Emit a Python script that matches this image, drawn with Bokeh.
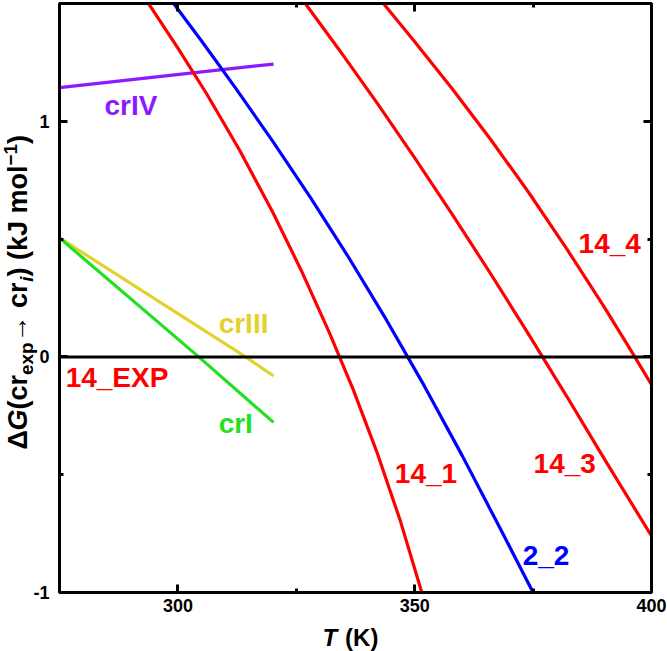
import math
from bokeh.plotting import figure
from bokeh.layouts import row, column
from bokeh.models import (Range1d, FixedTicker, LinearAxis, ColumnDataSource, Span,
                          CustomLabelingPolicy)
from bokeh.core.properties import value
from bokeh.embed import file_html
from bokeh.resources import INLINE

# ---------------- data ----------------
x_ticks = [300, 350, 400]
x_minor = [325, 375]
x_tick_labels = ["300", "350", "400"]
y_ticks = [-1, 0, 1]
y_minor = [-0.5, 0.5]
y_tick_labels = ["-1", "0", "1"]

t_14_1 = [293.8, 300.0, 306.0, 313.0, 320.0, 326.0, 332.0, 337.0, 342.0, 347.0, 351.5]
g_14_1 = [1.50, 1.311, 1.119, 0.878, 0.615, 0.369, 0.102, -0.138, -0.403, -0.698, -1.00]

t_2_2 = [299.1, 305.0, 312.0, 320.0, 328.0, 336.0, 344.0, 352.0, 360.0, 368.0, 375.0]
g_2_2 = [1.50, 1.341, 1.146, 0.916, 0.676, 0.424, 0.158, -0.122, -0.418, -0.726, -1.00]

t_14_3 = [326.9, 334.0, 342.0, 350.0, 358.0, 366.0, 374.0, 382.0, 390.0, 400.0]
g_14_3 = [1.50, 1.305, 1.079, 0.845, 0.603, 0.354, 0.098, -0.164, -0.432, -0.760]

t_14_4 = [343.4, 350.0, 358.0, 366.0, 374.0, 382.0, 390.0, 396.0, 400.0]
g_14_4 = [1.50, 1.338, 1.136, 0.924, 0.700, 0.462, 0.212, 0.016, -0.118]

t_crIV = [275.0, 320.2]
g_crIV = [1.143, 1.243]

t_crIII = [275.0, 314.3, 320.2]
g_crIII = [0.505, 0.00, -0.081]

t_crI = [275.0, 304.4, 320.2]
g_crI = [0.505, 0.00, -0.278]

# curve labels: left edge (x) and vertical middle (y) of each text
label_text = ["14_EXP", "crIII", "crI", "crIV", "14_1", "14_3", "2_2", "14_4"]
label_x = [276.3, 308.6, 308.6, 284.5, 345.8, 375.1, 372.8, 384.6]
label_y = [-0.089, 0.140, -0.284, 1.066, -0.496, -0.454, -0.844, 0.480]

RED = "#FF0000"
BLUE = "#0000FF"
PURPLE = "#8C1AFF"
YELLOW = "#E3D22E"
GREEN = "#22E022"
label_color = [RED, YELLOW, GREEN, PURPLE, RED, RED, BLUE, RED]

FONT = "Liberation Sans"

# ---------------- layout geometry ----------------
TOTAL_W, TOTAL_H = 667, 651
LEFT_W = 57          # panel (full height) holding the y title and y tick labels
BOT_H = 30           # panel holding the x title
MAIN_W = TOTAL_W - LEFT_W
MAIN_H = TOTAL_H - BOT_H
FR_TOP = 3
FR_BOT = MAIN_H - 592
K = 2.5 / (MAIN_H - FR_TOP - FR_BOT)   # data units per pixel (y)
MID = 0.35                              # baseline -> vertical middle, in em

hide_labels = CustomLabelingPolicy(
    code="for (const i of Array.from(indices)) { indices.unset(i) } return indices")

# ---------------- main figure ----------------
x_range = Range1d(275, 400)
y_range = Range1d(-1, 1.5)
p = figure(width=MAIN_W, height=MAIN_H, x_range=x_range, y_range=y_range,
           output_backend="svg", toolbar_location=None,
           min_border_left=2, min_border_right=16, min_border_top=FR_TOP,
           min_border_bottom=FR_BOT)
p.xgrid.visible = False
p.ygrid.visible = False
p.background_fill_color = "white"
p.border_fill_color = "white"
p.outline_line_color = "black"
p.outline_line_width = 3


def style_axis(ax, labels=True):
    ax.axis_line_color = "black"
    ax.axis_line_width = 3
    ax.major_tick_line_color = "black"
    ax.major_tick_line_width = 3
    ax.major_tick_in = 8
    ax.major_tick_out = 0
    ax.minor_tick_line_color = "black"
    ax.minor_tick_line_width = 3
    ax.minor_tick_in = 4
    ax.minor_tick_out = 0
    ax.axis_label = None
    if labels:
        ax.major_label_text_font = FONT
        ax.major_label_text_font_style = "bold"
        ax.major_label_text_font_size = "18px"
        ax.major_label_text_color = "black"
    else:
        ax.major_label_text_font_size = "0px"
        ax.major_label_standoff = 0
        ax.major_label_policy = hide_labels


p.xaxis.ticker = FixedTicker(ticks=x_ticks, minor_ticks=x_minor)
p.yaxis.ticker = FixedTicker(ticks=y_ticks, minor_ticks=y_minor)
p.xaxis.major_label_overrides = dict(zip(x_ticks, x_tick_labels))
for ax in p.xaxis:
    style_axis(ax)
    ax.major_label_standoff = 6
for ax in p.yaxis:
    style_axis(ax, labels=False)

top = LinearAxis(ticker=FixedTicker(ticks=x_ticks, minor_ticks=x_minor))
style_axis(top, labels=False)
p.add_layout(top, "above")
right = LinearAxis(ticker=FixedTicker(ticks=y_ticks, minor_ticks=y_minor))
style_axis(right, labels=False)
p.add_layout(right, "right")

p.add_layout(Span(location=0, dimension="width", line_color="black", line_width=3))

LW = 3.2
p.line(t_crIV, g_crIV, line_color=PURPLE, line_width=LW)
p.line(t_crIII, g_crIII, line_color=YELLOW, line_width=LW)
p.line(t_crI, g_crI, line_color=GREEN, line_width=LW)
p.line(t_14_1, g_14_1, line_color=RED, line_width=LW)
p.line(t_2_2, g_2_2, line_color=BLUE, line_width=LW)
p.line(t_14_3, g_14_3, line_color=RED, line_width=LW)
p.line(t_14_4, g_14_4, line_color=RED, line_width=LW)

src = ColumnDataSource(dict(x=label_x, y=label_y, text=label_text, color=label_color))
p.text(x="x", y="y", text="text", source=src, text_color="color",
       text_font=value(FONT), text_font_style=value("bold"), text_font_size=value("28px"),
       text_baseline=value("middle"), text_align=value("left"))

# ---------------- left panel (full height): y tick labels + y title ----------------
L_y_range = Range1d(-1 - (TOTAL_H - 592) * K, 1.5 + FR_TOP * K)
L = figure(width=LEFT_W, height=TOTAL_H, x_range=Range1d(0, LEFT_W), y_range=L_y_range,
           output_backend="svg", toolbar_location=None, x_axis_type=None, y_axis_type=None,
           min_border_left=0, min_border_right=0, min_border_top=0, min_border_bottom=0)
L.outline_line_color = None
L.background_fill_color = "white"
L.border_fill_color = "white"

L.text(x=[49] * len(y_ticks), y=y_ticks, text=y_tick_labels, text_color="black",
       text_font=value(FONT), text_font_style=value("bold"), text_font_size=value("18px"),
       text_baseline=value("middle"), text_align=value("right"))


def py2y(py):
    return 1.5 - (py - FR_TOP) * K


W = {"Δ": 0.70, "G": 0.778, "(": 0.333, ")": 0.333, "c": 0.556, "r": 0.389, "e": 0.556,
     "x": 0.556, "p": 0.611, " ": 0.278, "→": 0.75, "i": 0.278, "k": 0.556, "J": 0.556,
     "m": 0.889, "o": 0.611, "l": 0.278, "1": 0.556, "−": 0.584, "T": 0.611, "K": 0.722}


def width(s, size):
    return sum(W.get(ch, 0.556) for ch in s) * size


S = 27
ytitle = [("Δ", "bold", S, 0), ("G", "bold italic", S, 0), ("(cr", "bold", S, 0),
          ("exp", "bold", 0.7 * S, 0.22 * S), (" → cr", "bold", S, 0),
          ("i", "bold italic", 0.7 * S, 0.22 * S), (") (kJ mol", "bold", S, 0),
          ("−1", "bold", 0.7 * S, -0.40 * S), (")", "bold", S, 0)]
base_x = 27          # baseline of the rotated title (pixels from the left edge)
cur_y = 449
tx, ty, tt, tst, tsz = [], [], [], [], []
for txt, style, size, shift in ytitle:
    tx.append(base_x + shift - MID * size)
    ty.append(py2y(cur_y))
    tt.append(txt)
    tst.append(style)
    tsz.append(f"{size:.1f}px")
    cur_y -= width(txt, size)
ysrc = ColumnDataSource(dict(x=tx, y=ty, text=tt, style=tst, size=tsz))
L.text(x="x", y="y", text="text", source=ysrc, angle=math.pi / 2, text_color="black",
       text_font=value(FONT), text_font_style="style", text_font_size="size",
       text_baseline=value("middle"), text_align=value("left"))

# ---------------- bottom panel: x title ----------------
B = figure(width=MAIN_W, height=BOT_H, x_range=Range1d(LEFT_W, TOTAL_W),
           y_range=Range1d(BOT_H, 0),
           output_backend="svg", toolbar_location=None, x_axis_type=None, y_axis_type=None,
           min_border_left=0, min_border_right=0, min_border_top=0, min_border_bottom=0)
B.outline_line_color = None
B.background_fill_color = "white"
B.border_fill_color = "white"
XS = 24
xtitle = [("T", "bold italic", XS, 0), ("(K)", "bold", XS, 0.36 * XS)]
cur_x = 328
bx, bt, bst = [], [], []
for txt, style, size, gap in xtitle:
    cur_x += gap
    bx.append(cur_x)
    bt.append(txt)
    bst.append(style)
    cur_x += width(txt, size)
x_base = 645.5 - MAIN_H        # baseline inside the panel
bsrc = ColumnDataSource(dict(x=bx, y=[x_base - MID * XS] * len(bx), text=bt, style=bst))
B.text(x="x", y="y", text="text", source=bsrc, text_color="black",
       text_font=value(FONT), text_font_style="style", text_font_size=value(f"{XS}px"),
       text_baseline=value("middle"), text_align=value("left"))

layout = row(L, column(p, B, spacing=0), spacing=0)
open("out.html", "w").write(file_html(layout, INLINE))
